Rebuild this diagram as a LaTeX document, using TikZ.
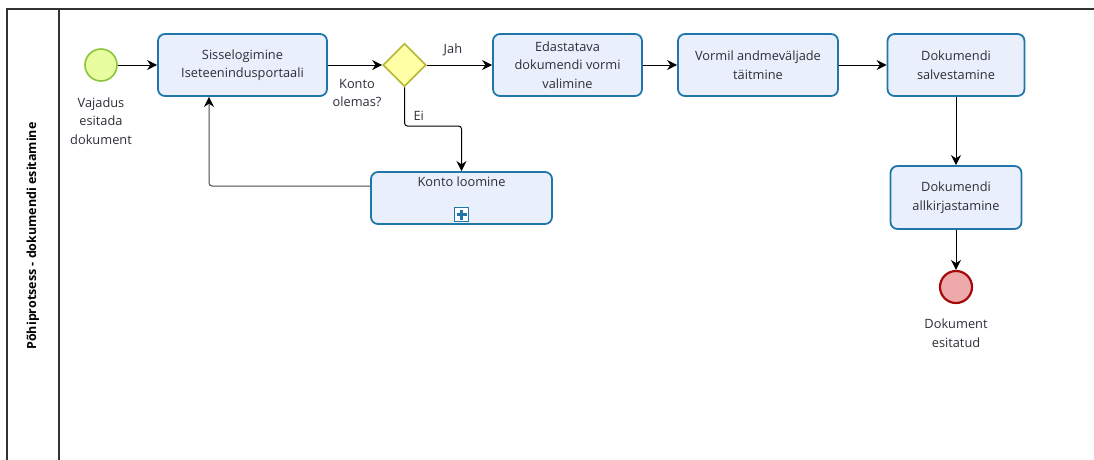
\documentclass[tikz,border=0pt]{standalone}
\usepackage{fontspec}
\setmainfont{Open Sans}
\usetikzlibrary{arrows.meta,shapes.geometric}
\definecolor{taskfill}{RGB}{234,239,252}
\definecolor{taskline}{RGB}{32,118,168}
\definecolor{gwfill}{RGB}{255,255,165}
\definecolor{gwline}{RGB}{182,182,52}
\definecolor{startfill}{RGB}{232,252,160}
\definecolor{startline}{RGB}{140,196,60}
\definecolor{endfill}{RGB}{238,170,170}
\definecolor{endline}{RGB}{165,10,10}
\definecolor{txt}{RGB}{45,45,55}
\definecolor{poolline}{RGB}{50,50,50}
\tikzset{
  task/.style={draw=taskline, fill=taskfill, line width=1.8pt, rounded corners=7pt,
    minimum height=62pt, align=center, font=\fontsize{12.8}{18.5}\selectfont, text=txt, inner sep=2pt},
  gateway/.style={diamond, draw=gwline, fill=gwfill, line width=1.6pt,
    minimum width=43pt, minimum height=43pt, inner sep=0pt},
  startev/.style={circle, draw=startline, fill=startfill, line width=1.6pt, minimum size=32pt, inner sep=0pt},
  endev/.style={circle, draw=endline, fill=endfill, line width=2.2pt, minimum size=32pt, inner sep=0pt},
  lbl/.style={align=center, font=\fontsize{12.8}{18.5}\selectfont, text=txt, inner sep=0pt},
  flow/.style={draw=black, line width=1pt, -{Stealth[length=10pt,width=10pt]}},
  loopflow/.style={draw=black!72, line width=1pt, -{Stealth[length=10pt,width=10pt,color=black]}, rounded corners=3pt},
}
\begin{document}
\begin{tikzpicture}[x=1pt,y=-1pt]
\useasboundingbox (0,0) rectangle (1094,459);
% pool and lane frame
\draw[poolline, line width=1.3pt] (7,470) -- (7,9) -- (1100,9);
\draw[poolline, line width=1.3pt] (59,9) -- (59,470);
\node[rotate=90, font=\bfseries\fontsize{12.5}{14}\selectfont, text=black] (lane) at (33,236) {Põhiprotsess - dokumendi esitamine};

% events, gateway and activities
\node[startev] (start) at (101,65) {};
\node[lbl] (startlabel) at (101,121) {Vajadus\\esitada\\dokument};

\node[task, minimum width=169pt] (login) at (242.5,65) {Sisselogimine\\Iseteenindusportaali};
\node[gateway] (gw) at (404.5,65) {};
\node[lbl] (gwlabel) at (357,93) {Konto\\olemas?};

\node[task, minimum width=149pt] (choose) at (567.5,65) {Edastatava\\dokumendi vormi\\valimine};
\node[task, minimum width=160pt] (fill) at (758,65) {Vormil andmeväljade\\täitmine};
\node[task, minimum width=137pt] (save) at (956,65) {Dokumendi\\salvestamine};
\node[task, minimum width=131pt, minimum height=63pt] (sign) at (956,197.5) {Dokumendi\\allkirjastamine};
\node[endev] (end) at (956,287) {};
\node[lbl] (endlabel) at (956,333) {Dokument\\esitatud};

% collapsed sub-process
\node[task, minimum width=181pt, minimum height=52pt,
  label={[lbl, anchor=north, yshift=-5pt]north:Konto loomine}] (account) at (461.5,198) {};
\draw[taskline, fill=white, line width=1.3pt] (454.5,207.5) rectangle (468.5,221.5);
\draw[taskline, line width=2.6pt] (456.5,214.5) -- (466.5,214.5) (461.5,209.5) -- (461.5,219.5);

% sequence flows
\draw[flow] (start) -- (login);
\draw[flow] (login) -- (gw);
\draw[flow] (gw) -- node[lbl, above=9pt, pos=0.4] {Jah} (choose);
\draw[flow] (choose) -- (fill);
\draw[flow] (fill) -- (save);
\draw[flow] (save) -- (sign);
\draw[flow] (sign) -- (end);
\draw[flow, rounded corners=3pt] (gw.south) -- (404.5,126) -- node[lbl, pos=0.25, above=5pt] {Ei} (461.5,126) -- (account.north);
\draw[loopflow] ([yshift=12pt]account.west) -- (209,186) -- ([xshift=-33.5pt]login.south);
\end{tikzpicture}
\end{document}
